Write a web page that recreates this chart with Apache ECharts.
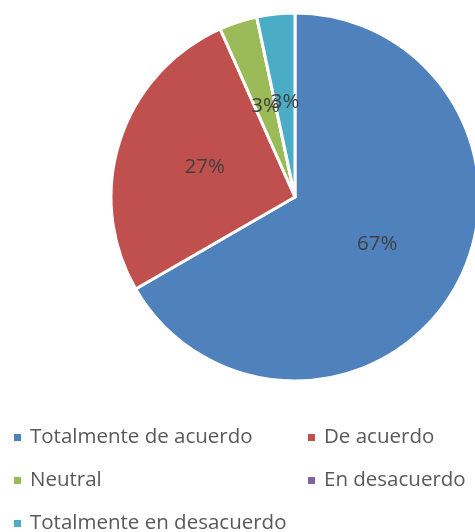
<!DOCTYPE html>
<html><head><meta charset="utf-8">
<script src="https://cdn.jsdelivr.net/npm/echarts@6/dist/echarts.min.js"></script>
<style>html,body{margin:0;padding:0;background:#fff}#c{width:475px;height:532px}</style>
</head><body><div id="c"></div>
<script>
var categories = ["Totalmente de acuerdo","De acuerdo","Neutral","En desacuerdo","Totalmente en desacuerdo"];
var values = [20, 8, 1, 0, 1];
var colors = ["#4F81BD","#C0504D","#9BBB59","#8064A2","#4BACC6"];

var font = "'Open Sans', sans-serif";
var legendPos = [[7,422],[301,422],[7,465],[301,465],[7,508]];
var legends = categories.map(function(n,i){
  return {data:[n], left:legendPos[i][0], top:legendPos[i][1], itemWidth:9, itemHeight:9, itemGap:0,
    icon:'rect', textStyle:{fontFamily:font, fontSize:20.5, color:'#595959', padding:[0,0,0,3]}, selectedMode:false};
});
var chart = echarts.init(document.getElementById('c'));
chart.setOption({
  animation:false,
  color: colors,
  legend: legends,
  series:[{
    type:'pie', center:[295,197], radius:184, startAngle:90, clockwise:true,
    itemStyle:{borderColor:'#fff', borderWidth:3},
    label:{show:true, position:'inside', fontFamily:font, fontSize:20.5, color:'#404040',
      formatter:function(p){return p.value===0?'':Math.round(p.percent)+'%';}},
    labelLayout:{hideOverlap:false},
    labelLine:{show:false},
    emphasis:{disabled:true},
    data: categories.map(function(n,i){return {name:n, value:values[i]};})
  }]
});
</script></body></html>
